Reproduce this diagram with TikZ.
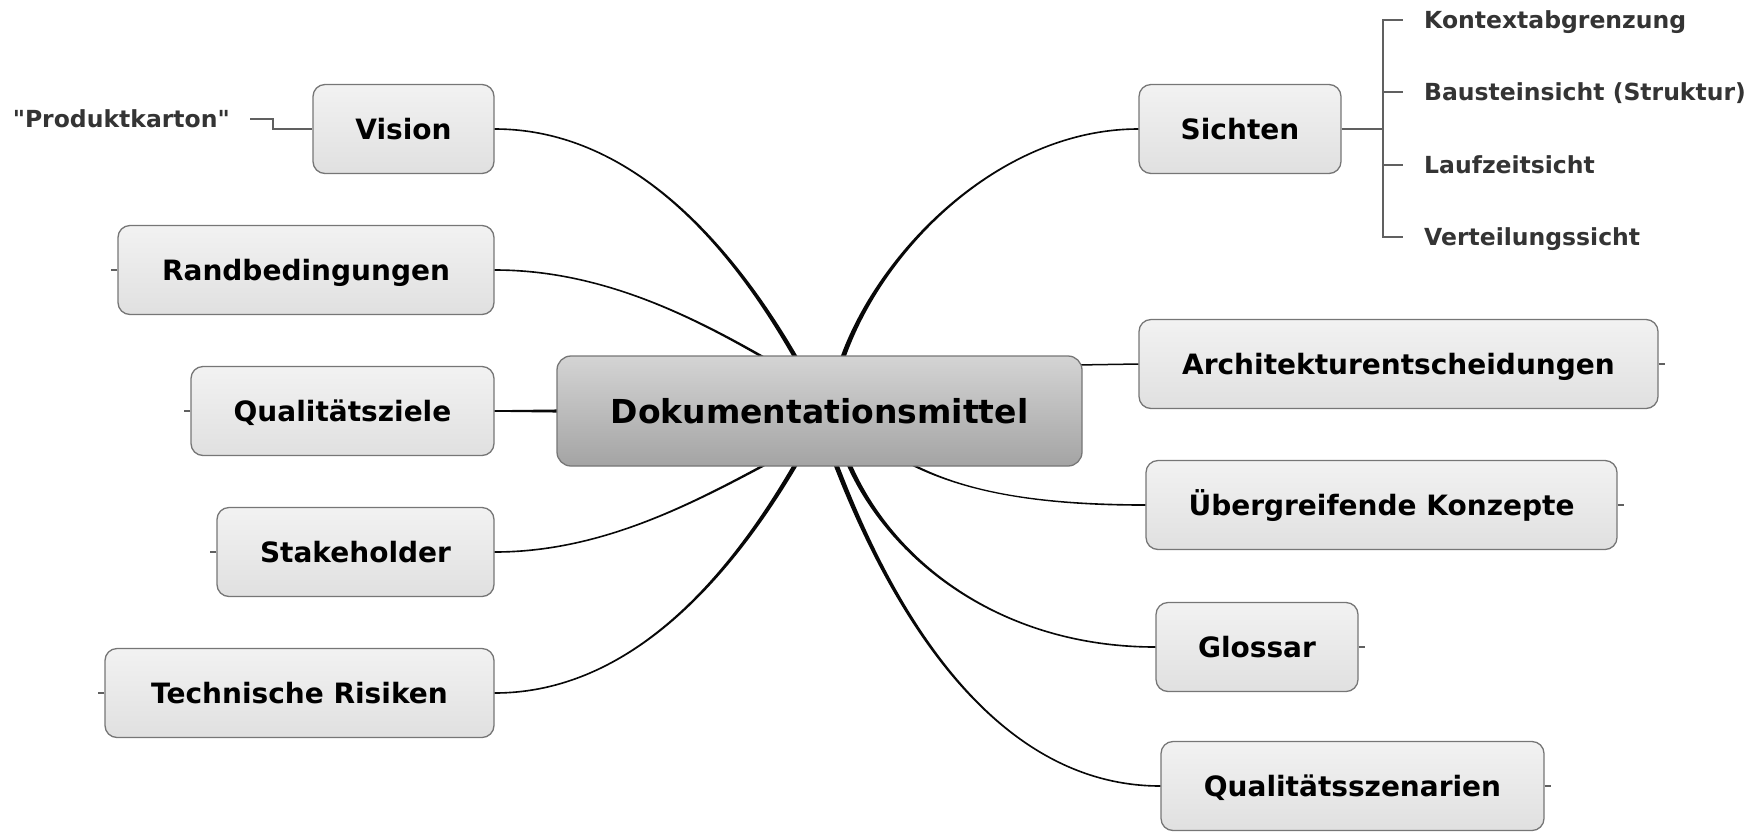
\documentclass[tikz,border=0pt]{standalone}
\usepackage{fontspec}
\setmainfont{DejaVu Sans}
\newfontfamily\straightquotes{DejaVu Sans}[Ligatures=TeXOff]
\usetikzlibrary{calc}

\definecolor{boxline}{RGB}{118,118,118}
\definecolor{boxtop}{RGB}{242,242,242}
\definecolor{boxbot}{RGB}{224,224,224}
\definecolor{hubtop}{RGB}{212,212,212}
\definecolor{hubmid}{RGB}{172,172,172}
\definecolor{hubbot}{RGB}{164,164,164}
\definecolor{linkcol}{RGB}{8,8,8}
\definecolor{subtext}{RGB}{52,52,52}
\definecolor{subline}{RGB}{96,96,96}

\newcommand\childfont{\fontsize{28}{32}\selectfont\bfseries}
\newcommand\hubfont{\fontsize{33}{38}\selectfont\bfseries}
\newcommand\subfont{\fontsize{23.5}{27}\selectfont\bfseries}

% tapered branch: child anchor, control near child, control near hub, hub point, side sign
\newcommand\branchlink[5]{%
  \fill[linkcol] ($(#1)+(0,-0.8)$) .. controls ($(#2)+(0,-0.95)$) and ($(#3)+({(#5)*2.2},0)$) .. ($(#4)+({(#5)*2.6},0)$)
    -- ($(#4)+({-1*(#5)*2.6},0)$) .. controls ($(#3)+({-1*(#5)*2.2},0)$) and ($(#2)+(0,0.95)$) .. ($(#1)+(0,0.8)$) -- cycle;}

\begin{document}
\begin{tikzpicture}[x=1pt,y=-1pt,
  childbox/.style={draw=boxline, line width=1.3pt, rounded corners=12pt,
    top color=boxtop, bottom color=boxbot, minimum height=89pt, inner sep=0pt,
    font=\childfont, text height=25pt, text depth=4pt},
  hubbox/.style={draw=boxline, line width=1.3pt, rounded corners=14pt,
    top color=hubtop, middle color=hubmid, bottom color=hubbot,
    minimum width=525pt, minimum height=110pt, inner sep=0pt,
    font=\hubfont, text height=29pt, text depth=4pt},
  sublabel/.style={inner sep=0pt, font=\subfont, text=subtext, text height=19pt, text depth=3pt},
  sublink/.style={draw=subline, line width=1.3pt},
  stub/.style={draw=subline, line width=1.1pt}]
\useasboundingbox (0,0) rectangle (1763,831);

% left branches
\node[childbox, minimum width=181pt] (vis)   at (403.5,129) {Vision};
\node[childbox, minimum width=376pt] (rand)  at (306,270)   {Randbedingungen};
\node[childbox, minimum width=303pt] (qual)  at (342.5,411) {Qualitätsziele};
\node[childbox, minimum width=277pt] (stake) at (355.5,552) {Stakeholder};
\node[childbox, minimum width=389pt] (tech)  at (299.5,693) {Technische Risiken};

% right branches
\node[childbox, minimum width=202pt] (sicht) at (1240,129)   {Sichten};
\node[childbox, minimum width=519pt] (arch)  at (1398.5,364) {Architekturentscheidungen};
\node[childbox, minimum width=471pt] (ueber) at (1381.5,505) {Übergreifende Konzepte};
\node[childbox, minimum width=202pt] (gloss) at (1257,647)   {Glossar};
\node[childbox, minimum width=383pt] (qs)    at (1352.5,786) {Qualitätsszenarien};

% points where the branches meet the central topic
\coordinate (h-vis)   at (797,360);
\coordinate (h-rand)  at (768,360);
\coordinate (h-qual)  at (562,411);
\coordinate (h-stake) at (770,462);
\coordinate (h-tech)  at (797,462);
\coordinate (h-sicht) at (842,360);
\coordinate (h-arch)  at (1076,365);
\coordinate (h-ueber) at (907,462);
\coordinate (h-gloss) at (848,462);
\coordinate (h-qs)    at (835,462);

% branch connectors
\branchlink{vis.east}{640,129}{740,260}{h-vis}{1}
\branchlink{rand.east}{600,270}{690,315}{h-rand}{1}
\branchlink{stake.east}{600,552}{690,505}{h-stake}{-1}
\branchlink{tech.east}{640,693}{740,560}{h-tech}{-1}
\branchlink{sicht.west}{1000,129}{880,250}{h-sicht}{-1}
\branchlink{ueber.west}{1030,505}{960,490}{h-ueber}{1}
\branchlink{gloss.west}{1000,647}{890,560}{h-gloss}{1}
\branchlink{qs.west}{980,786}{880,580}{h-qs}{1}
\fill[linkcol] ($(qual.east)+(0,-0.8)$) -- ($(h-qual)+(0,-1.6)$) -- ($(h-qual)+(0,1.6)$) -- ($(qual.east)+(0,0.8)$) -- cycle;
\draw[linkcol, line width=1.5pt] (h-arch) -- (arch.west);

% central topic
\node[hubbox] (hub) at (819.5,411) {Dokumentationsmittel};

% collapsed-branch markers
\draw[stub] (rand.west)  -- ++(-6,0);
\draw[stub] (qual.west)  -- ++(-6,0);
\draw[stub] (stake.west) -- ++(-6,0);
\draw[stub] (tech.west)  -- ++(-6,0);
\draw[stub] (arch.east)  -- ++(6,0);
\draw[stub] (ueber.east) -- ++(6,0);
\draw[stub] (gloss.east) -- ++(6,0);
\draw[stub] (qs.east)    -- ++(6,0);

% sub-topic of Vision
\node[sublabel, anchor=east] (prod) at (230,119) {\straightquotes "Produktkarton"};
\draw[sublink] ([xshift=20pt]prod.east) -- ++(23,0) |- (vis.west);

% sub-topics of Sichten
\node[sublabel, anchor=west] (kontext)  at (1424,20)  {Kontextabgrenzung};
\node[sublabel, anchor=west] (baustein) at (1424,92)  {Bausteinsicht (Struktur)};
\node[sublabel, anchor=west] (laufzeit) at (1424,165) {Laufzeitsicht};
\node[sublabel, anchor=west] (verteil)  at (1424,237) {Verteilungssicht};
\coordinate (brk) at (1383,129);
\draw[sublink] (sicht.east) -- (brk);
\draw[sublink] (brk) |- ([xshift=-21pt]kontext.west);
\draw[sublink] (brk) |- ([xshift=-21pt]baustein.west);
\draw[sublink] (brk) |- ([xshift=-21pt]laufzeit.west);
\draw[sublink] (brk) |- ([xshift=-21pt]verteil.west);
\end{tikzpicture}
\end{document}
